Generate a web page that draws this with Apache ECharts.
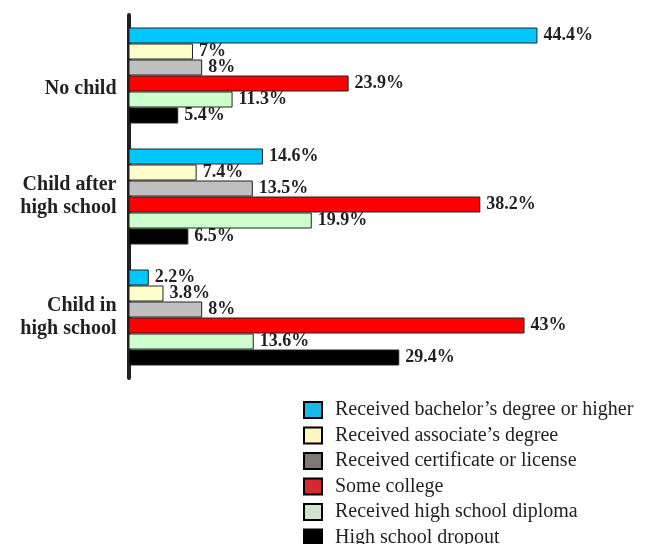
<!DOCTYPE html>
<html>
<head>
<meta charset="utf-8">
<script src="https://cdn.jsdelivr.net/npm/echarts@6/dist/echarts.min.js"></script>
<style>
html,body{margin:0;padding:0;background:#fff;}
#chart_main{width:665px;height:544px;}
</style>
</head>
<body>
<div id="chart_main"></div>
<script type="text/javascript">
var categories = ['No child', 'Child after\nhigh school', 'Child in\nhigh school'];
var seriesNames = [
	'Received bachelor\u2019s degree or higher',
	'Received associate\u2019s degree',
	'Received certificate or license',
	'Some college',
	'Received high school diploma',
	'High school dropout'
];
var bachelor = [44.4, 14.6, 2.2];
var associate = [7, 7.4, 3.8];
var certificate = [8, 13.5, 8];
var someCollege = [23.9, 38.2, 43];
var diploma = [11.3, 19.9, 13.6];
var dropout = [5.4, 6.5, 29.4];
var seriesValues = [bachelor, associate, certificate, someCollege, diploma, dropout];
var barColors = ['#00c8ff', '#ffffcc', '#c0c0c0', '#ff0000', '#ccffcc', '#000000'];
var legendColors = ['#1ab8e8', '#fff6c0', '#7f7773', '#d42a2f', '#cfe6cc', '#000000'];
// "No child" sits a bit below its group in the original
var labelDrop = [13, 0, 0];

var font = '"Liberation Serif", "DejaVu Serif", serif';
var ink = '#231f20';

var series = [];
for (var i = 0; i < seriesNames.length; i++) {
	series.push({
		name: seriesNames[i],
		type: 'bar',
		barWidth: 16,
		barGap: '0%',
		data: seriesValues[i],
		itemStyle: {color: barColors[i], borderColor: '#222', borderWidth: 1},
		label: {
			show: true,
			position: 'right',
			distance: 6,
			formatter: function (p) { return p.value + '%'; },
			fontFamily: font,
			fontWeight: 'bold',
			fontSize: 18,
			color: ink
		}
	});
}

var legendData = [];
for (var j = 0; j < seriesNames.length; j++) {
	legendData.push({
		name: seriesNames[j],
		itemStyle: {color: legendColors[j], borderColor: '#000', borderWidth: 2}
	});
}

var catStyle = {fontFamily: font, fontWeight: 'bold', fontSize: 20, lineHeight: 23, color: ink};
var rich = {t: catStyle};
for (var k = 0; k < labelDrop.length; k++) {
	rich['f' + k] = Object.assign({}, catStyle, {padding: [labelDrop[k] * 2, 0, 0, 0]});
}

var myChart = echarts.init(document.getElementById('chart_main'));
myChart.setOption({
	backgroundColor: '#fff',
	animation: false,
	grid: {left: 128.5, top: 15, width: 460.5, bottom: 166},
	legend: {
		orient: 'vertical',
		left: 298,
		top: 395,
		height: 220,
		icon: 'rect',
		itemWidth: 18,
		itemHeight: 16,
		itemGap: 5.5,
		data: legendData,
		textStyle: {fontFamily: font, fontSize: 20, color: ink, padding: [0, 0, 0, 8]}
	},
	xAxis: {
		type: 'value',
		min: 0,
		max: 50,
		show: false
	},
	yAxis: {
		type: 'category',
		inverse: true,
		data: categories,
		axisLine: {show: true, lineStyle: {color: ink, width: 4}},
		axisTick: {show: false},
		axisLabel: {
			margin: 12,
			align: 'right',
			formatter: function (v, idx) {
				var lines = v.split('\n');
				return lines.map(function (s, n) {
					return '{' + (n === 0 ? 'f' + idx : 't') + '|' + s + '}';
				}).join('\n');
			},
			rich: rich,
			fontFamily: font,
			fontWeight: 'bold',
			fontSize: 20,
			lineHeight: 23,
			color: ink
		}
	},
	series: series
});
</script>
</body>
</html>
